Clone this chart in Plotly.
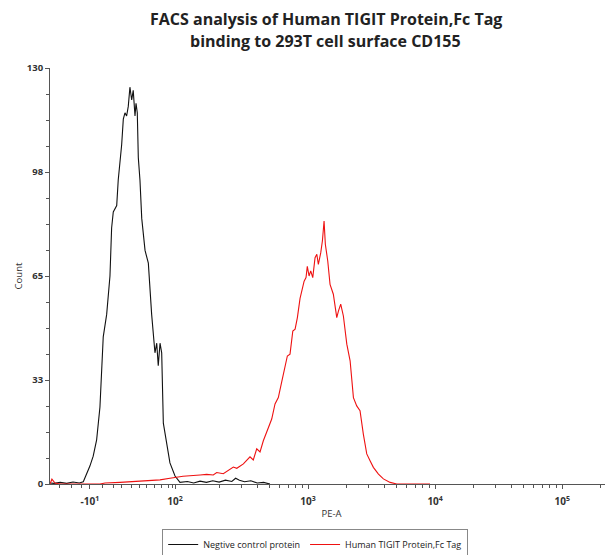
import plotly.graph_objects as go

# x values are positions on the biexponential display axis (in decade units)
neg_x = [0.969, 1.0, 1.05, 1.1, 1.15, 1.2, 1.231, 1.283, 1.309, 1.336, 1.362, 1.376, 1.388, 1.415,
         1.441, 1.454, 1.467, 1.494, 1.506, 1.533, 1.546, 1.559, 1.572, 1.585, 1.598, 1.612, 1.624,
         1.638, 1.646, 1.656, 1.664, 1.677, 1.691, 1.717, 1.743, 1.769, 1.795, 1.809, 1.821, 1.835,
         1.848, 1.861, 1.887, 1.913, 1.953, 1.992, 2.05, 2.1, 2.15, 2.2, 2.25, 2.3, 2.35, 2.4, 2.43,
         2.46, 2.5, 2.55, 2.6, 2.65, 2.7]
neg_y = [0.3, 0.2, 0.5, 0.2, 0.6, 0.3, 0.7, 5.6, 8.7, 13.8, 24, 34, 46, 53,
         65, 80, 85, 87, 95, 106, 114, 116, 115, 118, 124, 120, 123,
         115, 119, 116, 102, 95, 83, 73, 69, 53, 41, 44, 37, 44,
         41, 19, 12, 6.6, 2.5, 0.5, 0.8, 0.3, 0.9, 0.5, 1.0, 0.6, 1.2, 0.8, 1.8,
         1.2, 0.7, 1.0, 0.3, 0.5, 0]

tigit_x = [0.969, 0.984, 1.008, 1.047, 1.362, 1.402, 1.520, 1.638, 1.756, 1.835, 1.913, 2.016,
           2.150, 2.202, 2.254, 2.281, 2.333, 2.386, 2.412, 2.439, 2.491, 2.543, 2.569, 2.596,
           2.622, 2.648, 2.687, 2.714, 2.740, 2.766, 2.793, 2.819, 2.837, 2.858, 2.880, 2.898,
           2.916, 2.937, 2.958, 2.969, 2.984, 2.994, 3.008, 3.021, 3.037, 3.055, 3.069, 3.081,
           3.100, 3.113, 3.126, 3.136, 3.155, 3.173, 3.199, 3.226, 3.239, 3.257, 3.278, 3.305,
           3.331, 3.357, 3.383, 3.409, 3.435, 3.462, 3.488, 3.514, 3.554, 3.593, 3.646, 3.698, 3.96]
tigit_y = [0, 1.5, 0.3, 0, 0, 0.3, 0.5, 0.8, 0.9, 1.3, 1.8, 2.4,
           2.8, 3.0, 2.8, 3.6, 3.2, 4.8, 5.3, 4.9, 6.3, 8.5, 7.5, 11,
           10, 13.5, 17.7, 20.3, 25, 27, 32, 37.4, 40, 40.6, 47.8, 48.4,
           52, 58, 61.4, 63.4, 64.5, 68, 65, 66.6, 64.5, 70.7, 71.8, 68.6,
           72.3, 76, 82.2, 74.9, 69.7, 62.4, 59.3, 52, 54, 56.2, 52.5, 43.7,
           38.5, 27, 24.4, 22.9, 15.6, 9.4, 7.3, 5.2, 3.1, 1.6, 0.5, 0, 0]

x_tick_vals = [1.283, 1.953, 3.0, 4.0, 5.0]
x_tick_text = ["-10<sup>1</sup>", "10<sup>2</sup>", "10<sup>3</sup>", "10<sup>4</sup>", "10<sup>5</sup>"]
x_minor_vals = [1.047, 1.142, 1.220, 1.386, 1.465, 1.535, 1.614, 1.677, 1.732, 1.795, 1.850, 1.898, 1.937,
                2.301, 2.477, 2.602, 2.699, 2.778, 2.845, 2.903, 2.954,
                3.301, 3.477, 3.602, 3.699, 3.778, 3.845, 3.903, 3.954,
                4.301, 4.477, 4.602, 4.699, 4.778, 4.845, 4.903, 4.954,
                5.301]
y_tick_vals = [0, 32.5, 65, 97.5, 130]
y_tick_text = ["0", "33", "65", "98", "130"]
title_lines = ["FACS analysis of Human TIGIT Protein,Fc Tag", "binding to 293T cell surface CD155"]

FONT = "Open Sans"
AX = "#555555"

fig = go.Figure()
fig.add_trace(go.Scatter(x=neg_x, y=neg_y, mode="lines", name="Negtive control protein",
                         line=dict(color="#111111", width=1.1)))
fig.add_trace(go.Scatter(x=tigit_x, y=tigit_y, mode="lines", name="Human TIGIT Protein,Fc Tag",
                         line=dict(color="#ee1111", width=1.1)))

# the page body has an 8px margin, so the figure is offset 8px from the window corner
fig.update_layout(
    width=605, height=547,
    margin=dict(l=42, r=0, t=60, b=71, autoexpand=False),
    paper_bgcolor="white", plot_bgcolor="white",
    font=dict(family=FONT, color="#333333"),
    showlegend=True,
    legend=dict(orientation="h", x=0.471, xanchor="center", y=-0.108, yanchor="top",
                bordercolor="#888888", borderwidth=1, bgcolor="white",
                font=dict(size=9, color="#222222"), itemwidth=30,
                tracegroupgap=0),
)
for txt, yy in zip(title_lines, [1.1175, 1.064]):
    fig.add_annotation(text=txt, xref="paper", yref="paper", x=0.49, y=yy,
                       xanchor="center", yanchor="middle", showarrow=False,
                       font=dict(family=FONT, size=16, color="#222222", weight="bold"))

fig.update_xaxes(
    range=[0.969, 5.40], showgrid=False, zeroline=False, automargin=False,
    showline=True, linecolor=AX, linewidth=1,
    tickmode="array", tickvals=x_tick_vals, ticktext=x_tick_text,
    ticks="outside", ticklen=4, tickcolor=AX, ticklabelstandoff=4,
    tickfont=dict(size=10, color="#333333", weight="bold"),
    minor=dict(tickmode="array", tickvals=x_minor_vals, ticks="outside", ticklen=3, tickcolor=AX),
    title=dict(text="PE-A", font=dict(size=9.5, color="#333333"), standoff=3),
)
fig.update_yaxes(
    range=[0, 130], showgrid=False, zeroline=False, automargin=False,
    showline=True, linecolor=AX, linewidth=1,
    tickmode="array", tickvals=y_tick_vals, ticktext=y_tick_text,
    ticks="outside", ticklen=4, tickcolor=AX,
    tickfont=dict(size=9.5, color="#333333", weight="bold"),
    minor=dict(tick0=0, dtick=8.125, ticks="outside", ticklen=3, tickcolor=AX),
    title=dict(text="Count", font=dict(size=9.5, color="#333333"), standoff=2),
)

fig.write_html("out.html")
